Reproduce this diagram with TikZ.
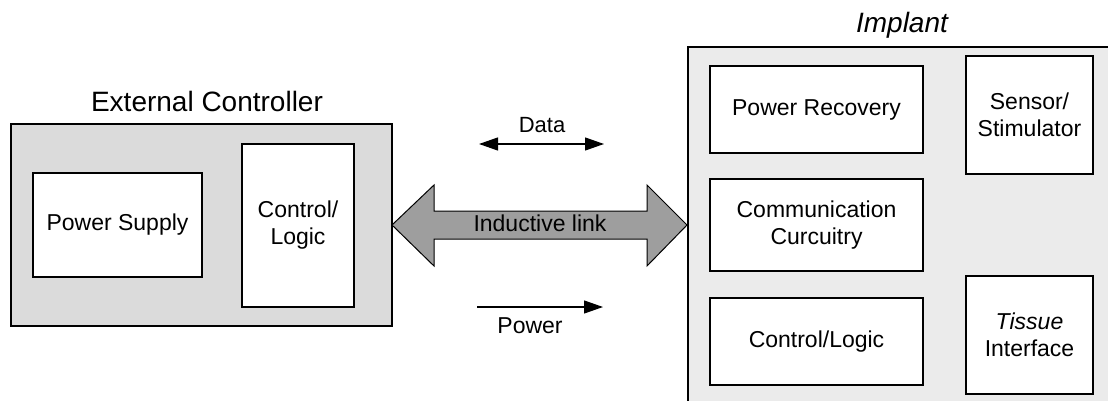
\documentclass[tikz,border=0pt]{standalone}
\usepackage{fontspec}
\setmainfont{Liberation Sans}
\usetikzlibrary{arrows.meta}
\definecolor{boxgray}{gray}{0.86}
\definecolor{implgray}{gray}{0.92}
\definecolor{arrowgray}{gray}{0.62}
\tikzset{
  blockbox/.style={draw=black, line width=1.3pt, fill=white, inner sep=0pt, align=center,
    font=\fontsize{23}{27}\selectfont},
  outerbox/.style={draw=black, line width=1.3pt, inner sep=0pt},
  titletext/.style={font=\fontsize{28}{32}\selectfont, anchor=base, inner sep=0pt},
  labeltext/.style={font=\fontsize{22}{26}\selectfont, anchor=base, inner sep=0pt},
  flowarrow/.style={line width=1.2pt, -{Triangle[length=19pt,width=13pt]}},
  dataarrow/.style={line width=1.2pt, {Triangle[length=19pt,width=13pt]}-{Triangle[length=19pt,width=13pt]}},
}
\begin{document}
\begin{tikzpicture}[x=1pt,y=-1pt]
\useasboundingbox (0,0) rectangle (1108,401);
\clip (0,0) rectangle (1108,401);
\fill[white] (0,0) rectangle (1108,401);

% External controller
\node[titletext] (extT) at (207,112) {External Controller};
\node[outerbox, fill=boxgray, minimum width=381pt, minimum height=202pt] (ext) at (201.5,225) {};
\node[blockbox, minimum width=169pt, minimum height=104pt] (ps) at (117.5,225) {Power Supply};
\node[blockbox, minimum width=112pt, minimum height=163pt] (clL) at (298,225.5) {Control/\\Logic};

% Implant
\node[titletext, font=\fontsize{28}{32}\selectfont\itshape] (impT) at (902,33) {Implant};
\node[outerbox, fill=implgray, minimum width=427pt, minimum height=363pt] (impl) at (901.5,228.5) {};
\node[blockbox, minimum width=213pt, minimum height=87pt] (pr) at (816.5,109.5) {Power Recovery};
\node[blockbox, minimum width=213pt, minimum height=92pt] (cc) at (816.5,225) {Communication\\Curcuitry};
\node[blockbox, minimum width=213pt, minimum height=87pt] (clR) at (816.5,341.5) {Control/Logic};
\node[blockbox, minimum width=127pt, minimum height=118pt] (ss) at (1029.5,115) {Sensor/\\Stimulator};
\node[blockbox, minimum width=127pt, minimum height=118pt] (ti) at (1029.5,335) {\textit{Tissue}\\Interface};

% Inductive link
\draw[line width=1pt, fill=arrowgray]
  (392,225) -- (434,185) -- (434,211) -- (647,211) -- (647,185) -- (687,225)
  -- (647,266) -- (647,239) -- (434,239) -- (434,266) -- cycle;
\node[font=\fontsize{23}{27}\selectfont, anchor=base, inner sep=0pt] (ind) at (540,231) {Inductive link};

% Data and Power arrows
\coordinate (dA) at (479,144);
\coordinate (dB) at (604,144);
\draw[dataarrow] (dA) -- (dB);
\node[labeltext] (dataT) at (542,132) {Data};
\coordinate (pA) at (477,307);
\coordinate (pB) at (603,307);
\draw[flowarrow] (pA) -- (pB);
\node[labeltext, font=\fontsize{23}{27}\selectfont] (powT) at (530,333) {Power};
\end{tikzpicture}
\end{document}
